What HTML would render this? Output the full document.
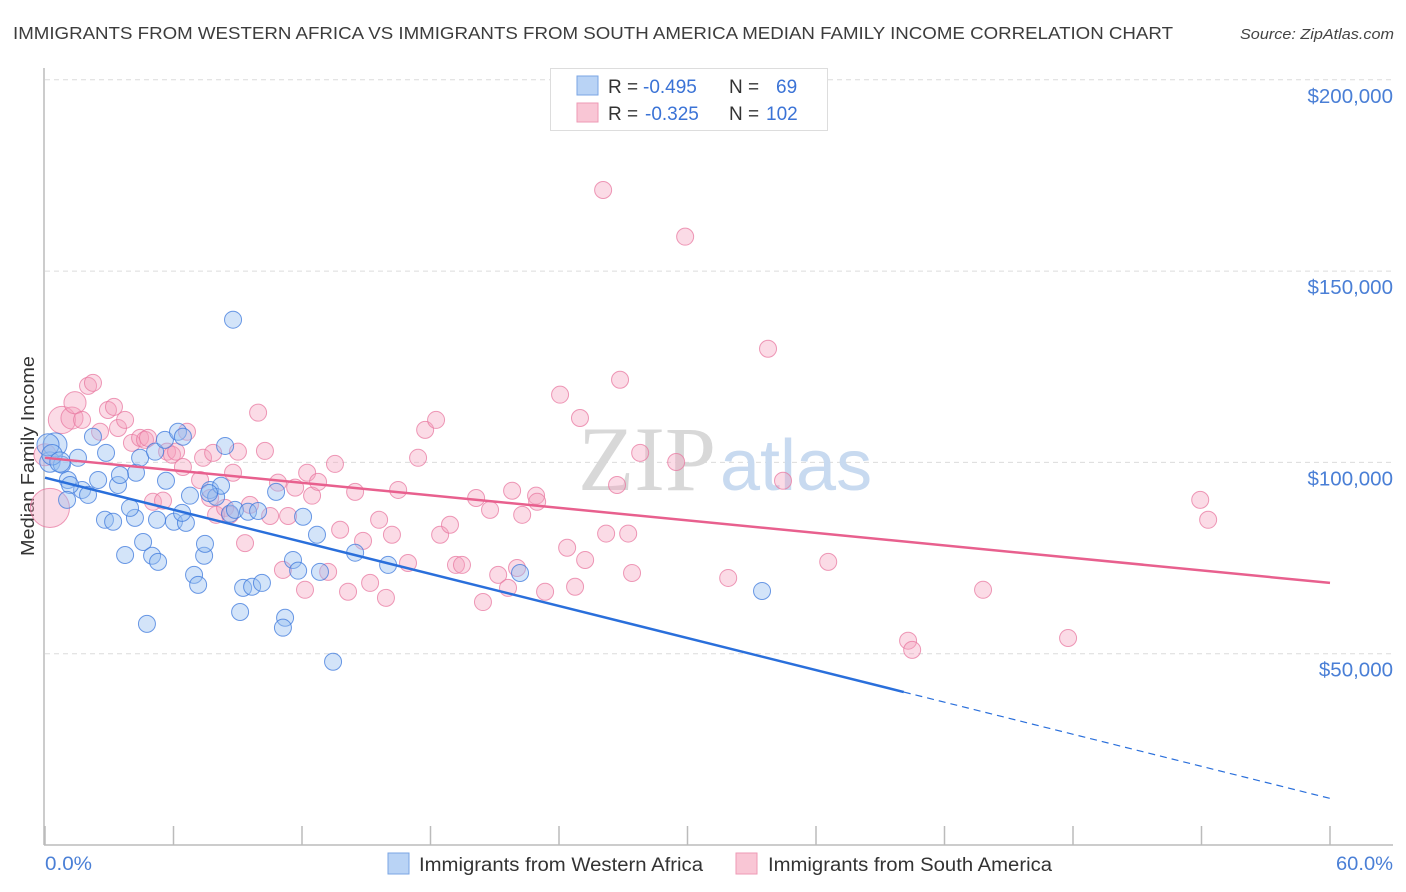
<!DOCTYPE html>
<html><head><meta charset="utf-8"><style>
body{margin:0;background:#fff;width:1406px;height:892px;overflow:hidden;font-family:"Liberation Sans",sans-serif;}
svg{position:absolute;left:0;top:0}
</style></head><body>
<svg id="chart" width="1406" height="892">
<text x="13" y="39" font-size="17.5" fill="#3c3c3c" textLength="1160" lengthAdjust="spacingAndGlyphs">IMMIGRANTS FROM WESTERN AFRICA VS IMMIGRANTS FROM SOUTH AMERICA MEDIAN FAMILY INCOME CORRELATION CHART</text>
<text x="1240" y="39" font-size="15" font-style="italic" fill="#444" textLength="154" lengthAdjust="spacingAndGlyphs">Source: ZipAtlas.com</text>
<g id="grid"></g>
<text x="716" y="490" font-size="92" font-family="Liberation Serif,serif" fill="#d8d8d8" text-anchor="end">ZIP</text>
<text x="720" y="490" font-size="72" fill="#c8daf0">atlas</text>
<line x1="44" y1="68" x2="44" y2="845" stroke="#bbb" stroke-width="1.5"/>
<line x1="44" y1="845" x2="1393" y2="845" stroke="#bbb" stroke-width="1.5"/>
<g id="xticks"></g>
<g id="ylabels"></g>
<text x="0" y="0" transform="translate(34,456) rotate(-90)" font-size="18" fill="#333" text-anchor="middle" textLength="200" lengthAdjust="spacingAndGlyphs">Median Family Income</text>
<text x="45" y="870" font-size="19" fill="#4a7fd6" textLength="47" lengthAdjust="spacingAndGlyphs">0.0%</text>
<text x="1336" y="870" font-size="19" fill="#4a7fd6" textLength="57" lengthAdjust="spacingAndGlyphs">60.0%</text>
<g id="pinkpts"></g>
<g id="bluepts"></g>
<g id="lines"></g>
<g>
<rect x="550.5" y="68.5" width="277" height="62" fill="#fff" stroke="#ddd"/>
<rect x="577" y="76" width="21" height="19" fill="#b9d3f5" stroke="#7aa6e4"/>
<rect x="577" y="103" width="21" height="19" fill="#f9c6d5" stroke="#ee9ab5"/>
<text x="608" y="93" font-size="19" fill="#333">R = <tspan x="643" fill="#3b73d6">-0.495</tspan><tspan x="729">N = </tspan><tspan x="776" fill="#3b73d6">69</tspan></text>
<text x="608" y="120" font-size="19" fill="#333">R = <tspan x="645" fill="#3b73d6">-0.325</tspan><tspan x="729">N = </tspan><tspan x="766" fill="#3b73d6">102</tspan></text>
</g>
<g>
<rect x="388" y="853" width="21" height="21" fill="#b9d3f5" stroke="#7aa6e4"/>
<text x="419" y="871" font-size="19" fill="#333" textLength="284" lengthAdjust="spacingAndGlyphs">Immigrants from Western Africa</text>
<rect x="736" y="853" width="21" height="21" fill="#f9c6d5" stroke="#ee9ab5"/>
<text x="768" y="871" font-size="19" fill="#333" textLength="284" lengthAdjust="spacingAndGlyphs">Immigrants from South America</text>
</g>
</svg>
<script>
const blueX=[0.47,0.23,0.79,1.54,2.24,2.85,1.07,1.73,2.01,1.17,2.48,3.41,4.25,3.50,4.44,5.14,5.60,6.21,6.44,8.41,2.80,3.18,4.20,3.97,5.23,5.65,6.02,6.58,6.40,6.77,7.71,7.99,8.22,7.66,8.64,8.87,9.48,9.95,10.79,12.05,12.70,3.74,4.58,5.00,5.28,6.96,7.15,7.43,7.47,9.25,9.67,10.13,9.11,11.21,11.11,11.58,11.82,12.84,14.48,16.02,22.18,4.76,8.78,13.45,33.48,1.03,0.14,0.33,0.70];
const blueY=[104.6,100.1,99.4,101.2,106.7,102.5,95.4,92.8,91.5,94.1,95.4,94.1,97.3,96.7,101.2,102.8,105.9,108.0,106.7,104.3,85.0,84.5,85.5,88.1,85.0,95.2,84.5,84.2,86.8,91.3,92.8,91.0,93.9,92.0,86.6,87.6,87.1,87.3,92.3,85.8,81.1,75.8,79.2,75.6,74.0,70.6,68.0,75.6,78.7,67.2,67.5,68.5,60.9,59.4,56.8,74.5,71.7,71.4,76.4,73.2,71.1,57.8,137.3,47.9,66.4,90.2,104.6,102.0,100.1];
const pinkX=[0.23,0,0.79,1.26,1.40,2.01,2.24,1.73,2.57,2.94,3.22,3.41,3.74,4.06,4.44,4.67,4.81,5.04,5.51,5.70,5.93,6.12,6.44,6.63,7.24,7.38,7.71,7.85,7.99,8.41,8.64,8.78,9.01,9.34,9.57,9.95,10.27,10.51,10.88,11.11,11.35,11.68,12.14,12.24,12.47,12.75,13.22,13.54,13.78,14.15,14.48,14.85,15.18,15.60,15.92,16.20,16.49,16.95,17.42,17.75,18.26,18.45,18.91,19.19,19.47,20.13,20.45,20.78,21.16,21.62,21.81,22.04,22.28,22.93,22.98,23.35,24.05,24.38,24.75,24.98,25.22,26.06,26.20,26.71,26.85,27.23,27.41,27.79,29.47,29.89,31.90,33.76,34.46,36.57,40.30,40.49,43.80,47.77,53.94,54.31];
const pinkY=[88.1,102.0,111.1,111.6,115.6,120.0,120.8,111.1,108.0,113.7,114.5,109.0,111.1,105.1,106.4,105.9,106.4,89.7,90.0,102.8,102.0,102.8,98.8,108.0,95.4,101.2,90.7,102.5,86.3,88.1,86.3,97.3,102.8,78.9,88.9,113.0,103.0,86.0,94.7,71.9,86.0,93.4,66.7,97.3,91.3,94.9,71.4,99.6,82.4,66.2,92.3,79.5,68.5,85.0,64.6,81.1,92.8,73.7,101.2,108.5,111.1,81.1,83.7,73.2,73.2,90.7,63.5,87.6,70.6,67.2,92.6,72.4,86.3,91.3,89.7,66.2,117.7,77.7,67.5,111.6,74.5,171.2,81.4,94.1,121.6,81.4,71.1,102.5,100.1,159.0,69.8,129.7,95.2,74.0,53.4,51.0,66.7,54.1,90.2,85.0];
const blueSize=[1.4,1.2,1,1,1,1,1,1,1,1,1,1,1,1,1,1,1,1,1,1,1,1,1,1,1,1,1,1,1,1,1,1,1,1,1,1,1,1,1,1,1,1,1,1,1,1,1,1,1,1,1,1,1,1,1,1,1,1,1,1,1,1,1,1,1,1,1.3,1.2,1.2];
const pinkSize=[2.3,1.3,1.6,1.3,1.3,1,1,1,1,1,1,1,1,1,1,1,1,1,1,1,1,1,1,1,1,1,1,1,1,1,1,1,1,1,1,1,1,1,1,1,1,1,1,1,1,1,1,1,1,1,1,1,1,1,1,1,1,1,1,1,1,1,1,1,1,1,1,1,1,1,1,1,1,1,1,1,1,1,1,1,1,1,1,1,1,1,1,1,1,1,1,1,1,1,1,1,1,1,1,1];
const yTicks=[50,100,150,200];
const yTickLabels=["$50,000","$100,000","$150,000","$200,000"];
const xTicks=[0,6,12,18,24,30,36,42,48,54,60];
const blueFit=[96.0,-1.397]; const blueSolidEnd=40.1;
const pinkFit=[101.2,-0.545];

const NS="http://www.w3.org/2000/svg";
const X=v=>45+v/60*1285;
const Y=v=>845-v*3.826;
function mk(tag,attrs,parent){const e=document.createElementNS(NS,tag);for(const k in attrs)e.setAttribute(k,attrs[k]);parent.appendChild(e);return e;}
const grid=document.getElementById('grid'),yl=document.getElementById('ylabels'),xt=document.getElementById('xticks');
yTicks.forEach((t,i)=>{
  const l=mk('line',{x1:45,x2:1393,y1:Y(t),y2:Y(t),stroke:'#dcdcdc','stroke-dasharray':'5,4'},grid);
  
  
  const tx=mk('text',{x:1393,y:Y(t)+23,'font-size':20.5,fill:'#4a7fd6','text-anchor':'end'},yl);
  tx.textContent=yTickLabels[i];
  
  
});
xTicks.forEach(t=>{
  const l=mk('line',{x1:X(t),x2:X(t),y1:826,y2:845,stroke:'#bbb','stroke-width':1.5},xt);
  
  
});
const pg=document.getElementById('pinkpts');
pinkX.forEach((x,i)=>{
  const c=mk('circle',{cx:X(x),cy:Y(pinkY[i]),r:8.5*pinkSize[i],fill:'rgba(244,160,188,0.38)',stroke:'rgba(232,120,160,0.75)','stroke-width':1},pg);
  
  
});
const bg=document.getElementById('bluepts');
blueX.forEach((x,i)=>{
  const c=mk('circle',{cx:X(x),cy:Y(blueY[i]),r:8.5*blueSize[i],fill:'rgba(150,190,240,0.42)',stroke:'rgba(60,120,220,0.75)','stroke-width':1},bg);
  
  
});
const lg=document.getElementById('lines');
const bf=x=>blueFit[0]+blueFit[1]*x, pf=x=>pinkFit[0]+pinkFit[1]*x;
let a=mk('line',{x1:X(0),y1:Y(bf(0)),x2:X(blueSolidEnd),y2:Y(bf(blueSolidEnd)),stroke:'#2a6fdb','stroke-width':2.5},lg);


let b=mk('line',{x1:X(blueSolidEnd),y1:Y(bf(blueSolidEnd)),x2:X(60),y2:Y(bf(60)),stroke:'#2a6fdb','stroke-width':1.2,'stroke-dasharray':'7,5'},lg);


let c=mk('line',{x1:X(0),y1:Y(pf(0)),x2:X(60),y2:Y(pf(60)),stroke:'#e8608e','stroke-width':2.5},lg);


</script>
</body></html>
